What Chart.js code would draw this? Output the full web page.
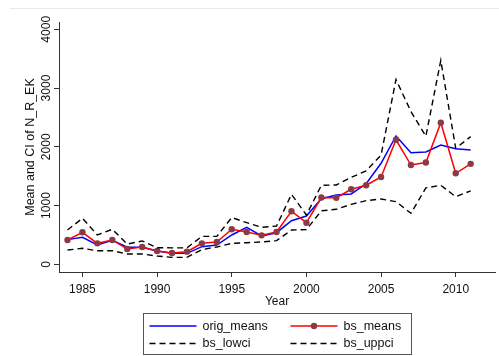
<!DOCTYPE html>
<html>
<head>
<meta charset="utf-8">
<script src="https://cdn.jsdelivr.net/npm/chart.js@4/dist/chart.umd.min.js"></script>
<style>
  html, body { margin: 0; padding: 0; background: #ffffff; }
  canvas { display: block; }
</style>
</head>
<body>
<canvas id="chart" width="499" height="356"></canvas>
<script>
// Yearly means of N_R_EK with bootstrap means and confidence bounds
const years = [1984, 1985, 1986, 1987, 1988, 1989, 1990, 1991, 1992, 1993,
               1994, 1995, 1996, 1997, 1998, 1999, 2000, 2001, 2002, 2003,
               2004, 2005, 2006, 2007, 2008, 2009, 2010, 2011];

const origMeans = [420, 460, 330, 410, 290, 290, 226, 190, 187, 300,
                   328, 499, 630, 482, 538, 742, 822, 1115, 1180, 1197,
                   1370, 1720, 2184, 1900, 1911, 2031, 1968, 1945];

const bsMeans = [414, 545, 357, 414, 260, 294, 226, 192, 215, 357,
                 380, 596, 550, 493, 550, 902, 708, 1137, 1134, 1277,
                 1345, 1486, 2120, 1690, 1733, 2410, 1549, 1710];

const bsLowci = [243, 272, 231, 231, 175, 175, 141, 118, 119, 250,
                 295, 357, 368, 380, 402, 584, 590, 910, 936, 1021,
                 1083, 1111, 1066, 868, 1300, 1345, 1151, 1250];

const bsUppci = [584, 783, 499, 596, 345, 397, 283, 280, 280, 476,
                 476, 797, 708, 630, 652, 1191, 839, 1344, 1350, 1480,
                 1590, 1860, 3145, 2600, 2180, 3470, 1974, 2173];

const yTicks = [0, 1000, 2000, 3000, 4000];
const xTicks = [1985, 1990, 1995, 2000, 2005, 2010];

const seriesLabels = ['orig_means', 'bs_means', 'bs_lowci', 'bs_uppci'];
const xTitle = 'Year';
const yTitle = 'Mean and CI of N_R_EK';

const FONT = 'Liberation Sans, Arial, sans-serif';
const TEXT = '#111111';
const AXIS = '#333333';

const toPoints = vals => years.map((yr, i) => ({ x: yr, y: vals[i] }));

// Boxed two-column key under the plot
const keyBox = {
  id: 'keyBox',
  afterDraw(chart) {
    const ctx = chart.ctx;
    const area = chart.chartArea;
    const cx = (area.left + area.right) / 2;
    const w = 268, h = 41;
    const left = Math.round(cx - w / 2) + 0.5;
    const top = 313.5;
    ctx.save();
    ctx.strokeStyle = '#555555';
    ctx.lineWidth = 1;
    ctx.strokeRect(left, top, w, h);

    const colX = [left + 6, left + 147];
    const rowY = [top + 12.5, top + 30];
    const sampleLen = 47;
    ctx.font = '12.5px ' + FONT;
    ctx.textBaseline = 'middle';
    ctx.textAlign = 'left';
    chart.data.datasets.forEach((ds, i) => {
      const x0 = colX[i % 2];
      const y = rowY[Math.floor(i / 2)];
      ctx.strokeStyle = ds.borderColor;
      ctx.lineWidth = ds.borderWidth;
      ctx.setLineDash(ds.borderDash || []);
      ctx.beginPath();
      ctx.moveTo(x0, y);
      ctx.lineTo(x0 + sampleLen, y);
      ctx.stroke();
      ctx.setLineDash([]);
      if (ds.pointRadius > 0) {
        ctx.fillStyle = ds.pointBackgroundColor;
        ctx.beginPath();
        ctx.arc(x0 + sampleLen / 2, y, ds.pointRadius, 0, Math.PI * 2);
        ctx.fill();
      }
      ctx.fillStyle = TEXT;
      ctx.fillText(ds.label, x0 + sampleLen + 6, y + 0.5);
    });
    ctx.restore();
  }
};

// Faint frame rule across the top of the graph region
const frameRule = {
  id: 'frameRule',
  beforeDraw(chart) {
    const ctx = chart.ctx;
    ctx.save();
    ctx.strokeStyle = '#e6eaed';
    ctx.lineWidth = 1;
    ctx.beginPath();
    ctx.moveTo(10, 8.5);
    ctx.lineTo(chart.width, 8.5);
    ctx.stroke();
    ctx.restore();
  }
};

new Chart(document.getElementById('chart'), {
  type: 'line',
  data: {
    datasets: [
      {
        label: seriesLabels[0],
        data: toPoints(origMeans),
        borderColor: '#0000ff',
        borderWidth: 1.5,
        pointRadius: 0,
        tension: 0,
        order: 4
      },
      {
        label: seriesLabels[1],
        data: toPoints(bsMeans),
        borderColor: '#ff0000',
        borderWidth: 1.5,
        pointRadius: 3.2,
        pointBackgroundColor: '#8b3a46',
        pointBorderColor: '#8b3a46',
        pointBorderWidth: 0,
        tension: 0,
        order: 3
      },
      {
        label: seriesLabels[2],
        data: toPoints(bsLowci),
        borderColor: '#000000',
        borderWidth: 1.4,
        borderDash: [6, 4],
        pointRadius: 0,
        tension: 0,
        order: 2
      },
      {
        label: seriesLabels[3],
        data: toPoints(bsUppci),
        borderColor: '#000000',
        borderWidth: 1.4,
        borderDash: [6, 4],
        pointRadius: 0,
        tension: 0,
        order: 1
      }
    ]
  },
  options: {
    responsive: false,
    animation: false,
    devicePixelRatio: 1,
    layout: { padding: { top: 22, left: 0, right: 0, bottom: 0 } },
    plugins: {
      legend: { display: false },
      tooltip: { enabled: false }
    },
    scales: {
      x: {
        type: 'linear',
        min: 1983.43,
        max: 2012.63,
        afterBuildTicks: s => { s.ticks = xTicks.map(v => ({ value: v })); },
        afterFit: s => { s.height = 84; },
        grid: { drawOnChartArea: false, drawTicks: true, tickLength: 5, color: AXIS },
        border: { display: true, color: AXIS, width: 1 },
        ticks: {
          autoSkip: false, maxRotation: 0, minRotation: 0,
          padding: 5, color: TEXT,
          font: { family: FONT, size: 12 },
          callback: v => String(v)
        },
        title: {
          display: true, text: xTitle, color: TEXT,
          font: { family: FONT, size: 12 },
          padding: { top: 0, bottom: 47.5 }
        }
      },
      y: {
        type: 'linear',
        min: -131,
        max: 4124,
        afterBuildTicks: s => { s.ticks = yTicks.map(v => ({ value: v })); },
        afterFit: s => { s.width = 59; },
        grid: { drawOnChartArea: false, drawTicks: true, tickLength: 5, color: AXIS },
        border: { display: true, color: AXIS, width: 1 },
        ticks: {
          autoSkip: false, minRotation: 90, maxRotation: 90,
          crossAlign: 'center', padding: -6, color: TEXT,
          font: { family: FONT, size: 12 },
          callback: v => String(v)
        },
        title: {
          display: true, text: yTitle, color: TEXT,
          font: { family: FONT, size: 12.5 },
          padding: { top: 23, bottom: 0 }
        }
      }
    }
  },
  plugins: [frameRule, keyBox]
});
</script>
</body>
</html>
